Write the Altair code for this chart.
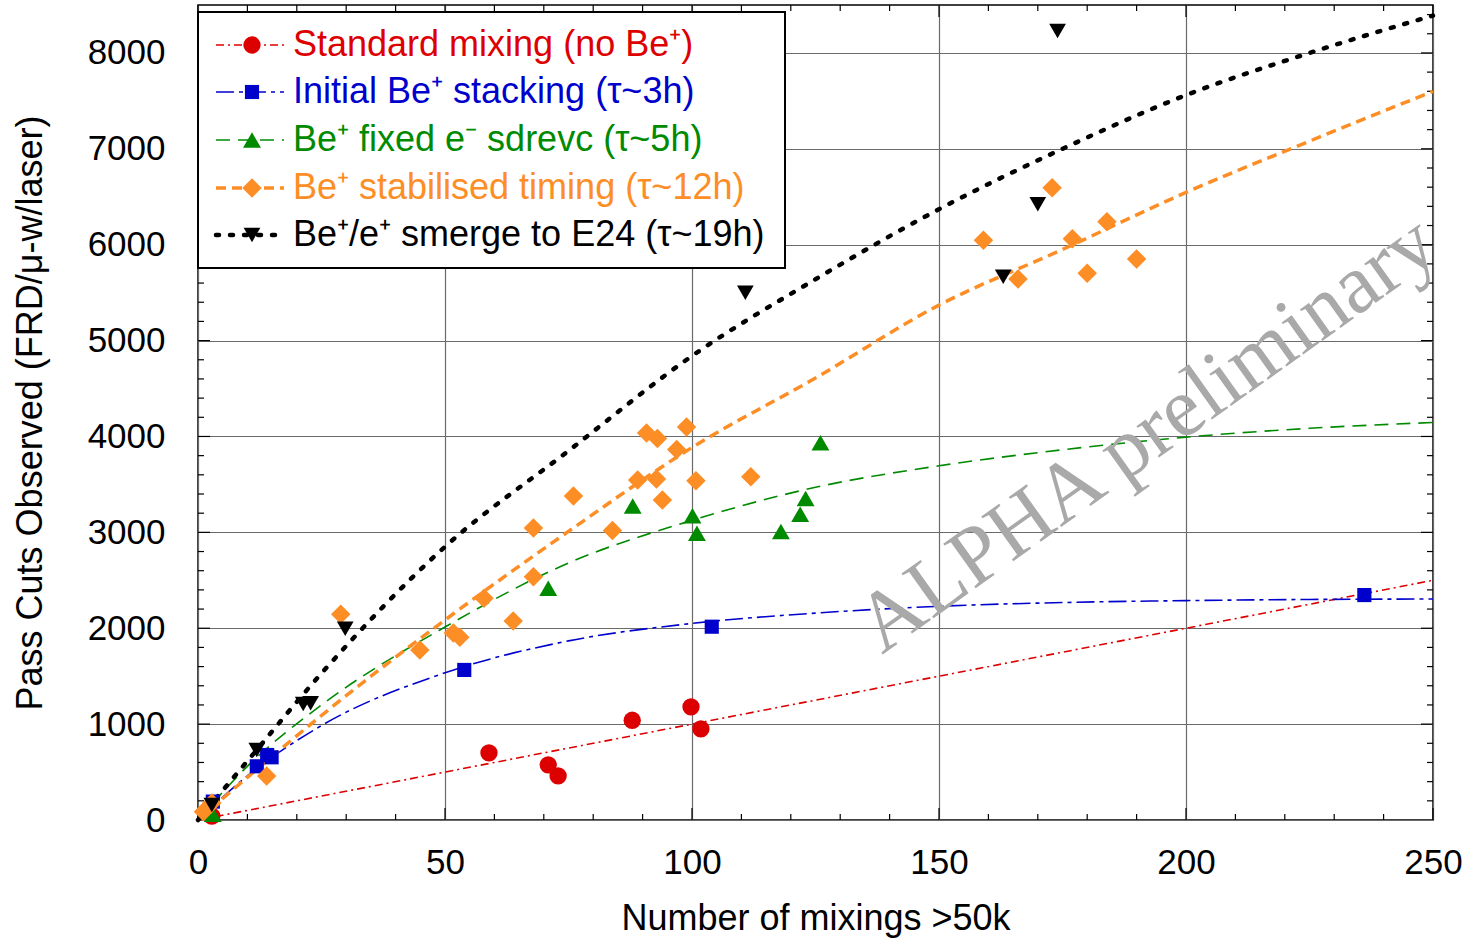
import altair as alt
import pandas as pd

# ---------------- data ----------------
red_x = [2.8, 58.9, 70.9, 72.9, 87.9, 99.8, 101.8]
red_y = [40, 700, 575, 460, 1040, 1180, 950]

blue_x = [3.0, 11.9, 14.0, 14.9, 53.9, 104.0, 236.1]
blue_y = [192, 560, 678, 654, 1565, 2016, 2346]

green_x = [3.0, 70.9, 88.0, 100.1, 101.0, 118.0, 121.9, 123.0, 126.0]
green_y = [60, 2417, 3275, 3172, 2990, 3010, 3190, 3353, 3935]

orange_x = [1.1, 2.8, 13.9, 28.9, 44.9, 51.7, 53.0, 57.9, 63.8, 67.9, 67.9, 76.0,
            83.9, 89.0, 92.8, 94.0, 90.8, 93.0, 96.9, 98.9, 100.8, 111.9,
            159.0, 166.0, 172.9, 177.0, 180.0, 184.0, 190.0]
orange_y = [87, 177, 460, 2145, 1773, 1950, 1905, 2312, 2075, 3045, 2537, 3380,
            3020, 3546, 3556, 3337, 4035, 3979, 3865, 4100, 3538, 3580,
            6047, 5643, 6595, 6062, 5702, 6240, 5852]

black_x = [2.8, 11.9, 21.3, 22.8, 29.8, 110.8, 163.0, 170.0, 174.0]
black_y = [156, 730, 1210, 1217, 1995, 5498, 5667, 6421, 8228]

fit_x = [0, 10, 25, 50, 75, 100, 125, 150, 175, 200, 225, 250]
red_fit = [0, 100, 250, 500, 750, 1000, 1250, 1500, 1750, 2000, 2250, 2500]
blue_fit = [0, 460, 985, 1535, 1868, 2050, 2158, 2229, 2268, 2288, 2300, 2305]
green_fit = [0, 560, 1200, 2013, 2680, 3125, 3470, 3694, 3861, 3993, 4085, 4146]
orange_fit = [0, 445, 1090, 2086, 3010, 3885, 4610, 5370, 5950, 6545, 7080, 7600]
black_fit = [0, 615, 1530, 2850, 3850, 4840, 5640, 6370, 7000, 7560, 8000, 8390]

legend_labels = [
    "Standard mixing (no Be\u207a)",
    "Initial Be\u207a stacking (\u03c4~3h)",
    "Be\u207a fixed e\u207b sdrevc (\u03c4~5h)",
    "Be\u207a stabilised timing (\u03c4~12h)",
    "Be\u207a/e\u207a smerge to E24 (\u03c4~19h)",
]

x_major = [0, 50, 100, 150, 200, 250]
x_minor = [10, 20, 30, 40, 60, 70, 80, 90, 110, 120, 130, 140,
           160, 170, 180, 190, 210, 220, 230, 240]
y_major = [0, 1000, 2000, 3000, 4000, 5000, 6000, 7000, 8000]
y_minor = [v for v in range(200, 8500, 200) if v % 1000 != 0]

# ---------------- styles ----------------
W, H = 1235, 815
FONT = "Liberation Sans"
FS = 35
TFS = 36
LFS = 36
RED, BLUE, GREEN, ORANGE, BLACK = "#dd0000", "#0000cc", "#008a00", "#fd8e26", "#000000"

series = [
    # (x, y, fit, colour, shape, size, dash, width)
    (red_x, red_y, red_fit, RED, "circle", 300, [8, 4, 2, 4], 1.6),
    (blue_x, blue_y, blue_fit, BLUE, "square", 200, [18, 5, 4, 5], 1.6),
    (green_x, green_y, green_fit, GREEN, "triangle-up", 320, [14, 8], 1.6),
    (orange_x, orange_y, orange_fit, ORANGE, "diamond", 380, [10, 6], 3.5),
    (black_x, black_y, black_fit, BLACK, "triangle-down", 280, [3, 11], 4.5),
]

xs = alt.Scale(domain=[0, 250], nice=False, zero=False)
ys = alt.Scale(domain=[0, 8500], nice=False, zero=False)

x_axis = alt.Axis(values=x_major, grid=True, ticks=False, tickSize=0, domain=False,
                  labelFontSize=FS, labelPadding=25, labelFont=FONT, format="d",
                  title="Number of mixings >50k", titleFontSize=TFS, titleFont=FONT,
                  titleFontWeight="normal", titlePadding=21, labelColor="black",
                  titleColor="black", gridColor="#6a6a6a", gridWidth=1.2,
                  labelFlush=False, labelOverlap=False)
y_axis = alt.Axis(values=y_major, grid=True, ticks=False, tickSize=0, domain=False,
                  labelFontSize=FS, labelPadding=33, labelFont=FONT, format="d",
                  title="Pass Cuts Observed (FRD/\u03bc-w/laser)", titleFontSize=TFS,
                  titleFont=FONT, titleFontWeight="normal", titlePadding=38,
                  labelColor="black", titleColor="black", gridColor="#6a6a6a",
                  gridWidth=1.2, labelFlush=False, labelOverlap=False)


def X(field):
    return alt.X(field, scale=xs, axis=x_axis)


def Y(field):
    return alt.Y(field, scale=ys, axis=y_axis)


layers = []

# tick marks (inward, all four sides)
xmin_df = pd.DataFrame({"v": x_minor})
xmaj_df = pd.DataFrame({"v": x_major})
ymin_df = pd.DataFrame({"v": y_minor})
ymaj_df = pd.DataFrame({"v": y_major[1:]})

for df, L in [(xmin_df, 6), (xmaj_df, 12)]:
    layers.append(alt.Chart(df).mark_rule(color="black", strokeWidth=1.2).encode(
        x=X("v:Q"), y=alt.value(H), y2=alt.value(H - L)))
    layers.append(alt.Chart(df).mark_rule(color="black", strokeWidth=1.2).encode(
        x=X("v:Q"), y=alt.value(0), y2=alt.value(L)))
for df, L in [(ymin_df, 6), (ymaj_df, 12)]:
    layers.append(alt.Chart(df).mark_rule(color="black", strokeWidth=1.2).encode(
        y=Y("v:Q"), x=alt.value(0), x2=alt.value(L)))
    layers.append(alt.Chart(df).mark_rule(color="black", strokeWidth=1.2).encode(
        y=Y("v:Q"), x=alt.value(W), x2=alt.value(W - L)))

# fitted curves and data points
for (sx, sy, fit, col, shape, size, dash, lw) in series:
    fdf = pd.DataFrame({"x": fit_x, "y": fit})
    layers.append(alt.Chart(fdf).mark_line(
        color=col, strokeDash=dash, strokeWidth=lw, interpolate="monotone",
        strokeCap="round" if col == BLACK else "butt").encode(
        x=X("x:Q"), y=Y("y:Q")))
for (sx, sy, fit, col, shape, size, dash, lw) in series:
    pdf = pd.DataFrame({"x": sx, "y": sy})
    layers.append(alt.Chart(pdf).mark_point(
        shape=shape, size=size, filled=True, color=col, opacity=1).encode(
        x=X("x:Q"), y=Y("y:Q")))

# watermark
wm = pd.DataFrame({"t": ["ALPHA preliminary"]})
layers.append(alt.Chart(wm).mark_text(
    font="Liberation Serif", fontSize=84, color="#a9a9a9", angle=324.5,
    align="left", baseline="alphabetic").encode(
    text="t:N", x=alt.value(684), y=alt.value(650)))

# legend box
box = pd.DataFrame({"t": [""]})
layers.append(alt.Chart(box).mark_rect(fill="white", stroke="black", strokeWidth=2).encode(
    x=alt.value(0), x2=alt.value(587), y=alt.value(7), y2=alt.value(263)))

row_y = [40, 87, 135, 183, 230]
for i, (sx, sy, fit, col, shape, size, dash, lw) in enumerate(series):
    ldf = pd.DataFrame({"t": [legend_labels[i]]})
    layers.append(alt.Chart(ldf).mark_rule(
        color=col, strokeDash=dash, strokeWidth=lw,
        strokeCap="round" if col == BLACK else "butt").encode(
        x=alt.value(18), x2=alt.value(86), y=alt.value(row_y[i])))
    layers.append(alt.Chart(ldf).mark_point(
        shape=shape, size=size, filled=True, color=col, opacity=1).encode(
        x=alt.value(54), y=alt.value(row_y[i])))
    layers.append(alt.Chart(ldf).mark_text(
        font=FONT, fontSize=LFS, color=col, align="left", baseline="middle").encode(
        text="t:N", x=alt.value(95), y=alt.value(row_y[i])))

chart = alt.layer(*layers).properties(
    width=W, height=H,
    autosize=alt.AutoSizeParams(type="none"),
    padding={"left": 198, "top": 5, "right": 32, "bottom": 121},
    background="white",
).configure_view(stroke="black", strokeWidth=1.5)

chart.save("out.html", embed_options={"renderer": "svg", "actions": False})
